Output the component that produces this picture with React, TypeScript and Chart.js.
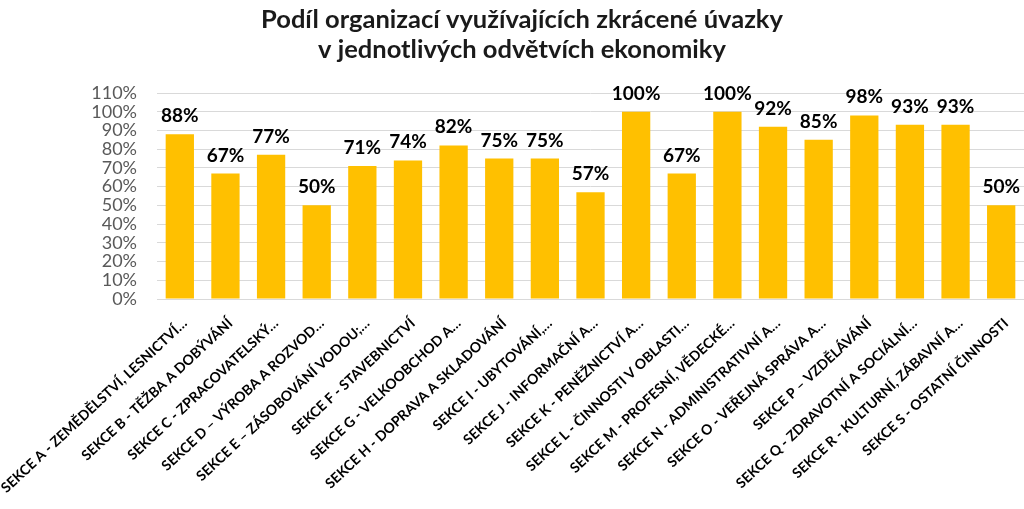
import React, { useEffect, useRef } from "react";
import { Chart, registerables } from "chart.js";

Chart.register(...registerables);

const titleLines = [
  "Podíl organizací využívajících zkrácené úvazky",
  "v jednotlivých odvětvích ekonomiky",
];

const categories = [
  "SEKCE A - ZEMĚDĚLSTVÍ, LESNICTVÍ…",
  "SEKCE B - TĚŽBA A DOBÝVÁNÍ",
  "SEKCE C - ZPRACOVATELSKÝ…",
  "SEKCE D – VÝROBA A ROZVOD…",
  "SEKCE E – ZÁSOBOVÁNÍ VODOU;…",
  "SEKCE F - STAVEBNICTVÍ",
  "SEKCE G - VELKOOBCHOD A…",
  "SEKCE H - DOPRAVA A SKLADOVÁNÍ",
  "SEKCE I - UBYTOVÁNÍ,…",
  "SEKCE J - INFORMAČNÍ A…",
  "SEKCE K - PENĚŽNICTVÍ A…",
  "SEKCE L - ČINNOSTI V OBLASTI…",
  "SEKCE M - PROFESNÍ, VĚDECKÉ…",
  "SEKCE N - ADMINISTRATIVNÍ A…",
  "SEKCE O - VEŘEJNÁ SPRÁVA A…",
  "SEKCE P – VZDĚLÁVÁNÍ",
  "SEKCE Q - ZDRAVOTNÍ A SOCIÁLNÍ…",
  "SEKCE R - KULTURNÍ, ZÁBAVNÍ A…",
  "SEKCE S - OSTATNÍ ČINNOSTI",
];

const values = [88, 67, 77, 50, 71, 74, 82, 75, 75, 57, 100, 67, 100, 92, 85, 98, 93, 93, 50];

const yMin = 0;
const yMax = 110;
const yStep = 10;

const FONT = "Lato, 'Open Sans', sans-serif";

const titlePlugin = {
  id: "customTitle",
  afterDraw(chart: any) {
    const ctx = chart.ctx;
    ctx.save();
    ctx.font = `bold 25.5px ${FONT}`;
    ctx.fillStyle = "#1a1a1a";
    ctx.textAlign = "center";
    ctx.textBaseline = "middle";
    titleLines.forEach((line, i) => {
      ctx.fillText(line, 522, 20 + i * 30);
    });
    ctx.restore();
  },
};

const dataLabelPlugin = {
  id: "dataLabels",
  afterDatasetsDraw(chart: any) {
    const ctx = chart.ctx;
    const meta = chart.getDatasetMeta(0);
    ctx.save();
    ctx.font = `bold 19px ${FONT}`;
    ctx.fillStyle = "#000000";
    ctx.textAlign = "center";
    ctx.textBaseline = "alphabetic";
    meta.data.forEach((bar: any, i: number) => {
      const v = chart.data.datasets[0].data[i];
      ctx.fillText(`${v}%`, bar.x, bar.y - 12);
    });
    ctx.restore();
  },
};

export default function App() {
  const canvasRef = useRef<HTMLCanvasElement | null>(null);

  useEffect(() => {
    document.body.style.margin = "0";
    const canvas = canvasRef.current;
    if (!canvas) return;
    const chart = new Chart(canvas, {
      type: "bar",
      data: {
        labels: categories,
        datasets: [
          {
            data: values,
            backgroundColor: "#FFC000",
            borderWidth: 0,
            barPercentage: 0.62,
            categoryPercentage: 1,
          },
        ],
      },
      options: {
        responsive: false,
        animation: false,
        layout: { padding: { left: 0, right: 0, top: 93, bottom: 0 } },
        plugins: {
          legend: { display: false },
          tooltip: { enabled: false },
          title: { display: false },
        },
        scales: {
          x: {
            grid: { display: false, drawTicks: false },
            border: { display: true, color: "#d9d9d9" },
            ticks: {
              minRotation: 43,
              maxRotation: 43,
              autoSkip: false,
              color: "#000000",
              padding: 16,
              labelOffset: 5,
              font: { family: FONT, size: 14, weight: "bold" },
            },
            afterFit(scale: any) {
              scale.height = 210;
              scale.paddingLeft = 0;
              scale.paddingRight = 0;
            },
          },
          y: {
            min: yMin,
            max: yMax,
            grid: { color: "#d9d9d9", drawTicks: false },
            border: { display: false },
            ticks: {
              stepSize: yStep,
              autoSkip: false,
              color: "#595959",
              padding: 20,
              font: { family: FONT, size: 18, lineHeight: 1 },
              callback: (v: any) => `${v}%`,
            },
            afterFit(scale: any) {
              scale.width = 157;
              scale.paddingTop = 0;
            },
          },
        },
      },
      plugins: [dataLabelPlugin, titlePlugin],
    });
    return () => chart.destroy();
  }, []);

  return (
    <div style={{ width: 1024, height: 509 }}>
      <canvas ref={canvasRef} width={1024} height={509} />
    </div>
  );
}
